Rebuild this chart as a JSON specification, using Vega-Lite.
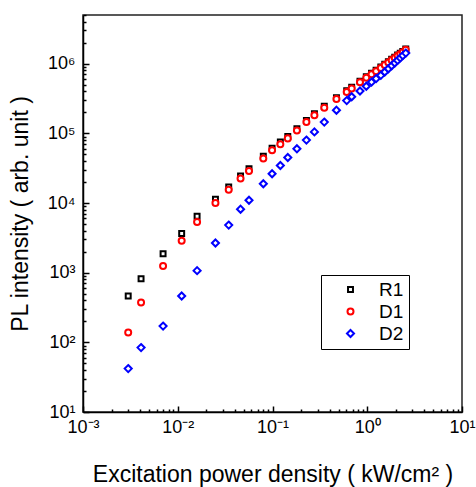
{
  "$schema": "https://vega.github.io/schema/vega-lite/v6.json",
  "width": 379,
  "height": 397,
  "autosize": {"type": "none"},
  "padding": {"left": 83, "top": 15, "right": 14, "bottom": 75},
  "background": "white",
  "config": {
    "view": {"stroke": "#222", "strokeWidth": 1.5},
    "font": "Liberation Sans"
  },
  "data": {
    "values": [
      {"series": "R1", "x": 0.003, "y": 463},
      {"series": "R1", "x": 0.0041, "y": 820},
      {"series": "R1", "x": 0.007, "y": 1875},
      {"series": "R1", "x": 0.011, "y": 3640},
      {"series": "R1", "x": 0.016, "y": 6460},
      {"series": "R1", "x": 0.025, "y": 11300},
      {"series": "R1", "x": 0.0345, "y": 17000},
      {"series": "R1", "x": 0.046, "y": 24500},
      {"series": "R1", "x": 0.0565, "y": 31000},
      {"series": "R1", "x": 0.08, "y": 47000},
      {"series": "R1", "x": 0.099, "y": 61000},
      {"series": "R1", "x": 0.121, "y": 75000},
      {"series": "R1", "x": 0.145, "y": 90000},
      {"series": "R1", "x": 0.181, "y": 117000},
      {"series": "R1", "x": 0.228, "y": 153000},
      {"series": "R1", "x": 0.277, "y": 192000},
      {"series": "R1", "x": 0.352, "y": 245000},
      {"series": "R1", "x": 0.473, "y": 326000},
      {"series": "R1", "x": 0.607, "y": 410000},
      {"series": "R1", "x": 0.685, "y": 458000},
      {"series": "R1", "x": 0.838, "y": 562000},
      {"series": "R1", "x": 0.977, "y": 652000},
      {"series": "R1", "x": 1.11, "y": 730000},
      {"series": "R1", "x": 1.24, "y": 805000},
      {"series": "R1", "x": 1.39, "y": 897000},
      {"series": "R1", "x": 1.53, "y": 983000},
      {"series": "R1", "x": 1.67, "y": 1070000},
      {"series": "R1", "x": 1.81, "y": 1157000},
      {"series": "R1", "x": 1.95, "y": 1243000},
      {"series": "R1", "x": 2.09, "y": 1330000},
      {"series": "R1", "x": 2.23, "y": 1416000},
      {"series": "R1", "x": 2.37, "y": 1503000},
      {"series": "R1", "x": 2.55, "y": 1620000},
      {"series": "D1", "x": 0.003, "y": 138},
      {"series": "D1", "x": 0.0041, "y": 374},
      {"series": "D1", "x": 0.007, "y": 1250},
      {"series": "D1", "x": 0.011, "y": 2880},
      {"series": "D1", "x": 0.016, "y": 5330},
      {"series": "D1", "x": 0.025, "y": 10000},
      {"series": "D1", "x": 0.0345, "y": 15500},
      {"series": "D1", "x": 0.046, "y": 22500},
      {"series": "D1", "x": 0.0565, "y": 28700},
      {"series": "D1", "x": 0.08, "y": 43700},
      {"series": "D1", "x": 0.099, "y": 57000},
      {"series": "D1", "x": 0.121, "y": 70000},
      {"series": "D1", "x": 0.145, "y": 84700},
      {"series": "D1", "x": 0.181, "y": 110000},
      {"series": "D1", "x": 0.228, "y": 145000},
      {"series": "D1", "x": 0.277, "y": 182000},
      {"series": "D1", "x": 0.352, "y": 233000},
      {"series": "D1", "x": 0.473, "y": 312000},
      {"series": "D1", "x": 0.607, "y": 393000},
      {"series": "D1", "x": 0.685, "y": 440000},
      {"series": "D1", "x": 0.838, "y": 540000},
      {"series": "D1", "x": 0.977, "y": 630000},
      {"series": "D1", "x": 1.11, "y": 706000},
      {"series": "D1", "x": 1.24, "y": 780000},
      {"series": "D1", "x": 1.39, "y": 870000},
      {"series": "D1", "x": 1.53, "y": 955000},
      {"series": "D1", "x": 1.67, "y": 1040000},
      {"series": "D1", "x": 1.81, "y": 1125000},
      {"series": "D1", "x": 1.95, "y": 1210000},
      {"series": "D1", "x": 2.09, "y": 1295000},
      {"series": "D1", "x": 2.23, "y": 1380000},
      {"series": "D1", "x": 2.37, "y": 1465000},
      {"series": "D1", "x": 2.55, "y": 1580000},
      {"series": "D2", "x": 0.003, "y": 42},
      {"series": "D2", "x": 0.0041, "y": 84},
      {"series": "D2", "x": 0.007, "y": 171},
      {"series": "D2", "x": 0.011, "y": 463},
      {"series": "D2", "x": 0.016, "y": 1070},
      {"series": "D2", "x": 0.025, "y": 2670},
      {"series": "D2", "x": 0.0345, "y": 4820},
      {"series": "D2", "x": 0.046, "y": 8150},
      {"series": "D2", "x": 0.0565, "y": 10960},
      {"series": "D2", "x": 0.08, "y": 18900},
      {"series": "D2", "x": 0.099, "y": 26300},
      {"series": "D2", "x": 0.121, "y": 34600},
      {"series": "D2", "x": 0.145, "y": 45000},
      {"series": "D2", "x": 0.181, "y": 60000},
      {"series": "D2", "x": 0.228, "y": 80000},
      {"series": "D2", "x": 0.277, "y": 105000},
      {"series": "D2", "x": 0.352, "y": 145000},
      {"series": "D2", "x": 0.473, "y": 215000},
      {"series": "D2", "x": 0.607, "y": 295000},
      {"series": "D2", "x": 0.685, "y": 335000},
      {"series": "D2", "x": 0.838, "y": 405000},
      {"series": "D2", "x": 0.977, "y": 475000},
      {"series": "D2", "x": 1.11, "y": 545000},
      {"series": "D2", "x": 1.24, "y": 610000},
      {"series": "D2", "x": 1.39, "y": 680000},
      {"series": "D2", "x": 1.53, "y": 760000},
      {"series": "D2", "x": 1.67, "y": 845000},
      {"series": "D2", "x": 1.81, "y": 935000},
      {"series": "D2", "x": 1.95, "y": 1025000},
      {"series": "D2", "x": 2.09, "y": 1115000},
      {"series": "D2", "x": 2.23, "y": 1210000},
      {"series": "D2", "x": 2.37, "y": 1305000},
      {"series": "D2", "x": 2.55, "y": 1420000}
    ]
  },
  "mark": {"type": "point", "filled": true, "fill": "white", "strokeWidth": 2, "opacity": 1, "size": 50},
  "encoding": {
    "x": {
      "field": "x", "type": "quantitative",
      "scale": {"type": "log", "domain": [0.001, 10]},
      "axis": {
        "title": "Excitation power density ( kW/cm² )",
        "titleFontSize": 23, "titleFontWeight": "normal", "titleColor": "black", "titlePadding": 24,
        "values": [0.001,0.002,0.003,0.004,0.005,0.006,0.007,0.008,0.009,0.01,0.02,0.03,0.04,0.05,0.06,0.07,0.08,0.09,0.1,0.2,0.3,0.4,0.5,0.6,0.7,0.8,0.9,1,2,3,4,5,6,7,8,9,10],
        "labelExpr": "abs(log(datum.value)/LN10 - round(log(datum.value)/LN10)) < 0.01 ? (round(log(datum.value)/LN10) == -3 ? '10⁻³' : round(log(datum.value)/LN10) == -2 ? '10⁻²' : round(log(datum.value)/LN10) == -1 ? '10⁻¹' : round(log(datum.value)/LN10) == 0 ? '10⁰' : '10¹') : ''",
        "labelFontSize": 18, "labelColor": "black", "labelFlush": false, "labelOverlap": false, "labelPadding": 12,
        "tickSize": {"condition": {"test": "abs(log(datum.value)/LN10 - round(log(datum.value)/LN10)) < 0.01", "value": -6}, "value": -3},
        "tickColor": "black", "tickWidth": 1.5,
        "domainColor": "black", "domainWidth": 1.5,
        "grid": false
      }
    },
    "y": {
      "field": "y", "type": "quantitative",
      "scale": {"type": "log", "domain": [10, 5000000]},
      "axis": {
        "title": "PL intensity ( arb. unit )",
        "titleFontSize": 23, "titleFontWeight": "normal", "titleColor": "black", "titlePadding": 15,
        "values": [10,20,30,40,50,60,70,80,90,100,200,300,400,500,600,700,800,900,1000,2000,3000,4000,5000,6000,7000,8000,9000,10000,20000,30000,40000,50000,60000,70000,80000,90000,100000,200000,300000,400000,500000,600000,700000,800000,900000,1000000,2000000,3000000,4000000,5000000],
        "labelExpr": "abs(log(datum.value)/LN10 - round(log(datum.value)/LN10)) < 0.01 ? (round(log(datum.value)/LN10) == 1 ? '10¹' : round(log(datum.value)/LN10) == 2 ? '10²' : round(log(datum.value)/LN10) == 3 ? '10³' : round(log(datum.value)/LN10) == 4 ? '10⁴' : round(log(datum.value)/LN10) == 5 ? '10⁵' : '10⁶') : ''",
        "labelFontSize": 18, "labelColor": "black", "labelFlush": false, "labelOverlap": false, "labelPadding": 14,
        "tickSize": {"condition": {"test": "abs(log(datum.value)/LN10 - round(log(datum.value)/LN10)) < 0.01", "value": -6}, "value": -3},
        "tickColor": "black", "tickWidth": 1.5,
        "domainColor": "black", "domainWidth": 1.5,
        "grid": false
      }
    },
    "shape": {
      "field": "series", "type": "nominal",
      "scale": {"domain": ["R1", "D1", "D2"], "range": ["M-0.7,-0.7H0.7V0.7H-0.7Z", "M0.85,0A0.85,0.85,0,1,1,-0.85,0A0.85,0.85,0,1,1,0.85,0Z", "M0,-1L1,0L0,1L-1,0Z"]},
      "legend": {
        "title": null, "orient": "none", "legendX": 238, "legendY": 260,
        "strokeColor": "black", "fillColor": "white", "padding": 5,
        "symbolOffset": 15, "labelOffset": 19, "labelFontSize": 19, "labelColor": "black",
        "rowPadding": 2, "symbolStrokeWidth": 2, "symbolSize": 50, "symbolFillColor": "white"
      }
    },
    "stroke": {
      "field": "series", "type": "nominal",
      "scale": {"domain": ["R1", "D1", "D2"], "range": ["#000000", "#ff0000", "#0000ff"]},
      "legend": {
        "title": null, "orient": "none", "legendX": 238, "legendY": 260,
        "strokeColor": "black", "fillColor": "white", "padding": 5,
        "symbolOffset": 15, "labelOffset": 19, "labelFontSize": 19, "labelColor": "black",
        "rowPadding": 2, "symbolStrokeWidth": 2, "symbolSize": 50, "symbolFillColor": "white"
      }
    }
  }
}
